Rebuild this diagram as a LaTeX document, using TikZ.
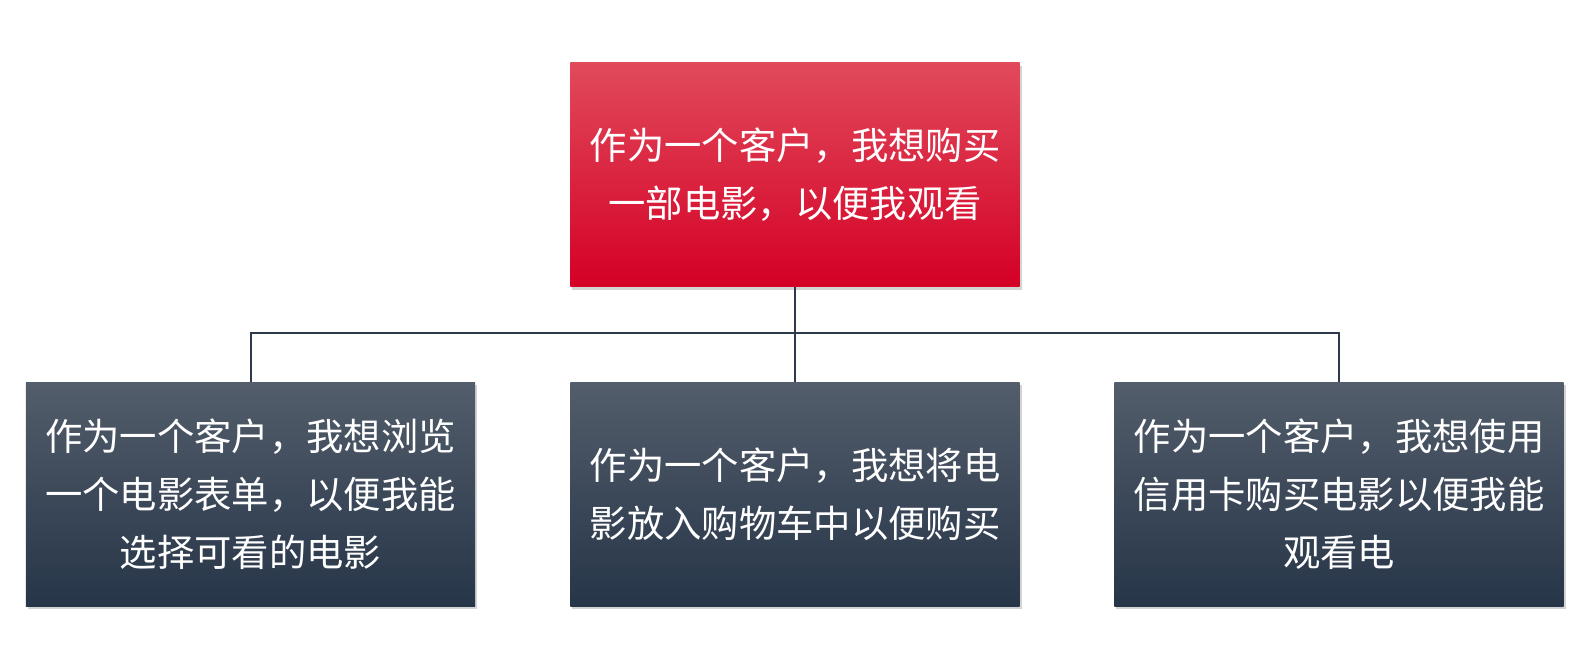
\documentclass[tikz,border=0pt]{standalone}
\usepackage{fontspec}
\setmainfont{Noto Sans CJK SC}
\usetikzlibrary{shadows}

\definecolor{storyRedTop}{HTML}{E14A5B}
\definecolor{storyRedBot}{HTML}{D40026}
\definecolor{storyNavyTop}{HTML}{535D6B}
\definecolor{storyNavyBot}{HTML}{263548}
\definecolor{linkline}{HTML}{2E3A4C}

\tikzset{
    storybox/.style={rectangle, minimum width=337pt, minimum height=168pt,
        text width=320pt, align=center, text=white,
        font=\fontsize{28}{43.5}\selectfont,
        drop shadow={shadow xshift=1.5pt, shadow yshift=-2.5pt, opacity=0.35}},
    epicbox/.style={storybox, top color=storyRedTop, bottom color=storyRedBot},
    taskbox/.style={storybox, top color=storyNavyTop, bottom color=storyNavyBot},
    link/.style={draw=linkline, line width=1.5pt}
}

\begin{document}
\begin{tikzpicture}[x=0.75pt, y=0.75pt]
    \useasboundingbox (0,0) rectangle (1589,669);

    % Epic: the story being split
    \node[epicbox] (epic) at (795,494.5) {作为一个客户，我想购买\\一部电影，以便我观看};

    % The three smaller stories
    \node[taskbox] (browse) at (250.5,175) {作为一个客户，我想浏览\\一个电影表单，以便我能\\选择可看的电影};
    \node[taskbox] (cart)   at (795,175)   {作为一个客户，我想将电\\影放入购物车中以便购买};
    \node[taskbox] (pay)    at (1339,175)  {作为一个客户，我想使用\\信用卡购买电影以便我能\\观看电};

    % Tree connectors
    \coordinate (branch) at (795,336);
    \draw[link] (epic.south) -- (epic.south |- branch);
    \draw[link] (browse.north) |- (pay.north |- branch) -- (pay.north);
    \draw[link] (epic.south |- branch) -- (cart.north);
\end{tikzpicture}
\end{document}
